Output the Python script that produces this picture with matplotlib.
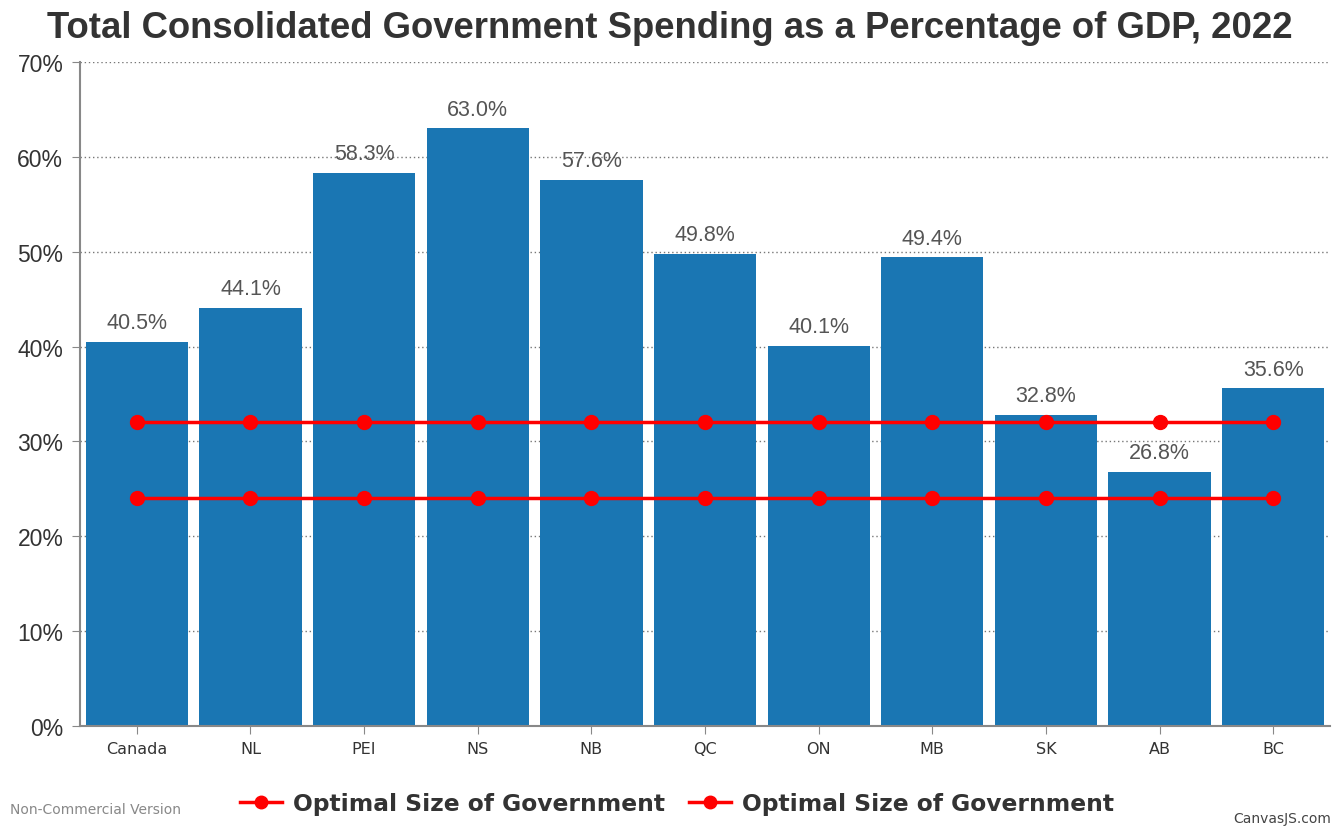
import matplotlib
matplotlib.use("Agg")
import matplotlib.pyplot as plt
from matplotlib.ticker import MultipleLocator, FuncFormatter

categories = ["Canada", "NL", "PEI", "NS", "NB", "QC", "ON", "MB", "SK", "AB", "BC"]
spending = [40.5, 44.1, 58.3, 63.0, 57.6, 49.8, 40.1, 49.4, 32.8, 26.8, 35.6]
optimal_upper = [32] * len(categories)
optimal_lower = [24] * len(categories)
series_name = "Optimal Size of Government"

fig = plt.figure(figsize=(13.39, 8.29), dpi=100)
ax = fig.add_axes([80/1339, 1-727/829, 1250/1339, 664/829])

x = list(range(len(categories)))
ax.bar(x, spending, width=0.9, color="#1A76B3", zorder=2)
for xi, v in zip(x, spending):
    ax.text(xi, v + 0.9, f"{v:.1f}%", ha="center", va="bottom", fontsize=15.5,
            family="Liberation Sans", color="#555555", zorder=4)

l1, = ax.plot(x, optimal_upper, color="#FF0000", lw=2.5, marker="o", ms=10, zorder=3)
l2, = ax.plot(x, optimal_lower, color="#FF0000", lw=2.5, marker="o", ms=10, zorder=3)

ax.set_xlim(-0.5, len(categories) - 0.5)
ax.set_ylim(0, 70)
ax.yaxis.set_major_locator(MultipleLocator(10))
ax.yaxis.set_major_formatter(FuncFormatter(lambda v, p: f"{int(v)}%"))
ax.grid(axis="y", linestyle=(0, (1, 2)), color="#777777", lw=1, zorder=0)
ax.set_axisbelow(True)
for s in ["top", "right"]:
    ax.spines[s].set_visible(False)
for s in ["left", "bottom"]:
    ax.spines[s].set_color("#888888")
    ax.spines[s].set_linewidth(1.5)
ax.set_xticks(x)
ax.set_xticklabels(categories, family="DejaVu Sans", fontsize=11.5, color="#333333")
ax.tick_params(axis="x", length=6, color="#888888", pad=5)
ax.tick_params(axis="y", length=6, color="#888888", labelsize=16.5, labelcolor="#333333", pad=6)
for lab in ax.get_yticklabels():
    lab.set_family("Liberation Sans")

fig.text(0.5, 1-28/829, "Total Consolidated Government Spending as a Percentage of GDP, 2022",
         ha="center", va="center", fontsize=26.3, fontweight="bold",
         family="Liberation Sans", color="#333333")

leg = fig.legend([l1, l2], [series_name, series_name], loc="center",
                 bbox_to_anchor=(677/1339, 1-805/829), ncol=2, frameon=False,
                 prop={"family": "DejaVu Sans", "size": 16.8, "weight": "bold"},
                 handlelength=1.8, columnspacing=1.0, handletextpad=0.5,
                 markerscale=0.9)
for t in leg.get_texts():
    t.set_color("#333333")

fig.text(10/1339, 1-810/829, "Non-Commercial Version", ha="left", va="center",
         fontsize=10, color="#888888", family="DejaVu Sans")
fig.text(1233/1339, 1-819/829, "CanvasJS.com", ha="left", va="center",
         fontsize=10, color="#444444", family="DejaVu Sans")

fig.savefig("out.png", dpi=100)
